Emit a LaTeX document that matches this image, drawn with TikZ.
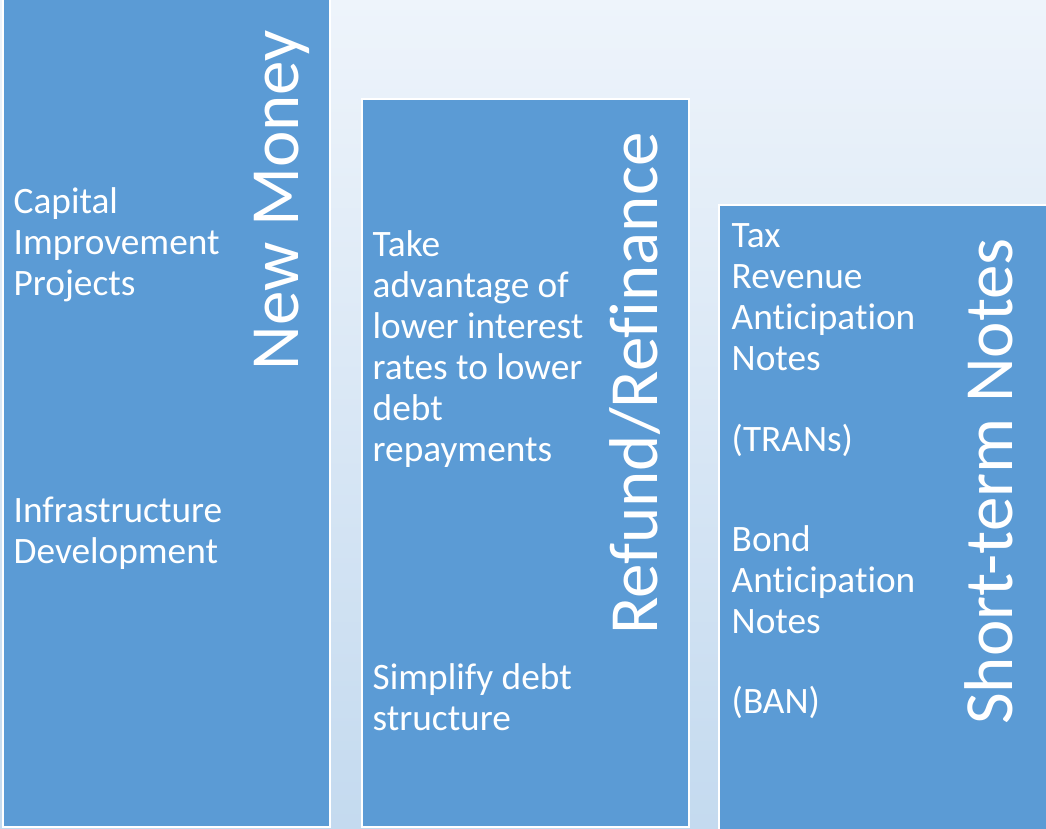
\documentclass[tikz,border=0pt]{standalone}
\usepackage{fontspec}
\setmainfont{Carlito}[Ligatures={NoCommon}]
\usepackage{tikz}
\usepackage{xcolor}
\definecolor{colblue}{HTML}{5B9BD5}
\definecolor{bgtop}{HTML}{EEF4FB}
\definecolor{bgbot}{HTML}{C4DAEF}

\begin{document}
\begin{tikzpicture}[x=1pt,y=-1pt,
  colbox/.style={fill=colblue,draw=white,line width=1.5pt},
  coltitle/.style={rotate=90,anchor=base east,inner sep=0pt,text=white,font=\fontsize{69}{80}\selectfont},
  colitem/.style={anchor=base west,inner sep=0pt,text=white,align=flush left,text width=300pt,font=\fontsize{37.3}{41}\selectfont}]
\useasboundingbox (0,0) rectangle (1046,829);
\clip (0,0) rectangle (1046,829);
\shade[top color=bgtop,bottom color=bgbot] (0,0) rectangle (1046,829);

\draw[colbox] (3,-10) rectangle (330,827);
\draw[colbox] (362,99) rectangle (689,827);
\draw[colbox] (719,205) rectangle (1060,840);

\node[coltitle] (money) at (298,30) {New Money};
\node[coltitle] (refund) at (657,132) {Refund/Refinance};
\node[coltitle] (shortterm) at (1012,238) {Short-term Notes};

\node[colitem] (capital) at (13.5,213) {Capital\\Improvement\\Projects};
\node[colitem] (infra) at (13.5,522) {Infrastructure\\Development};

\node[colitem] (lower) at (372.5,256) {Take\\advantage of\\lower interest\\rates to lower\\debt\\repayments};
\node[colitem] (simplify) at (372.5,689) {Simplify debt\\structure};

\node[colitem] (tran) at (731.5,247) {Tax\\Revenue\\Anticipation\\Notes};
\node[colitem] (trans) at (731.5,451) {(TRANs)};
\node[colitem] (bond) at (731.5,551) {Bond\\Anticipation\\Notes};
\node[colitem] (ban) at (731.5,713) {(BAN)};
\end{tikzpicture}
\end{document}
